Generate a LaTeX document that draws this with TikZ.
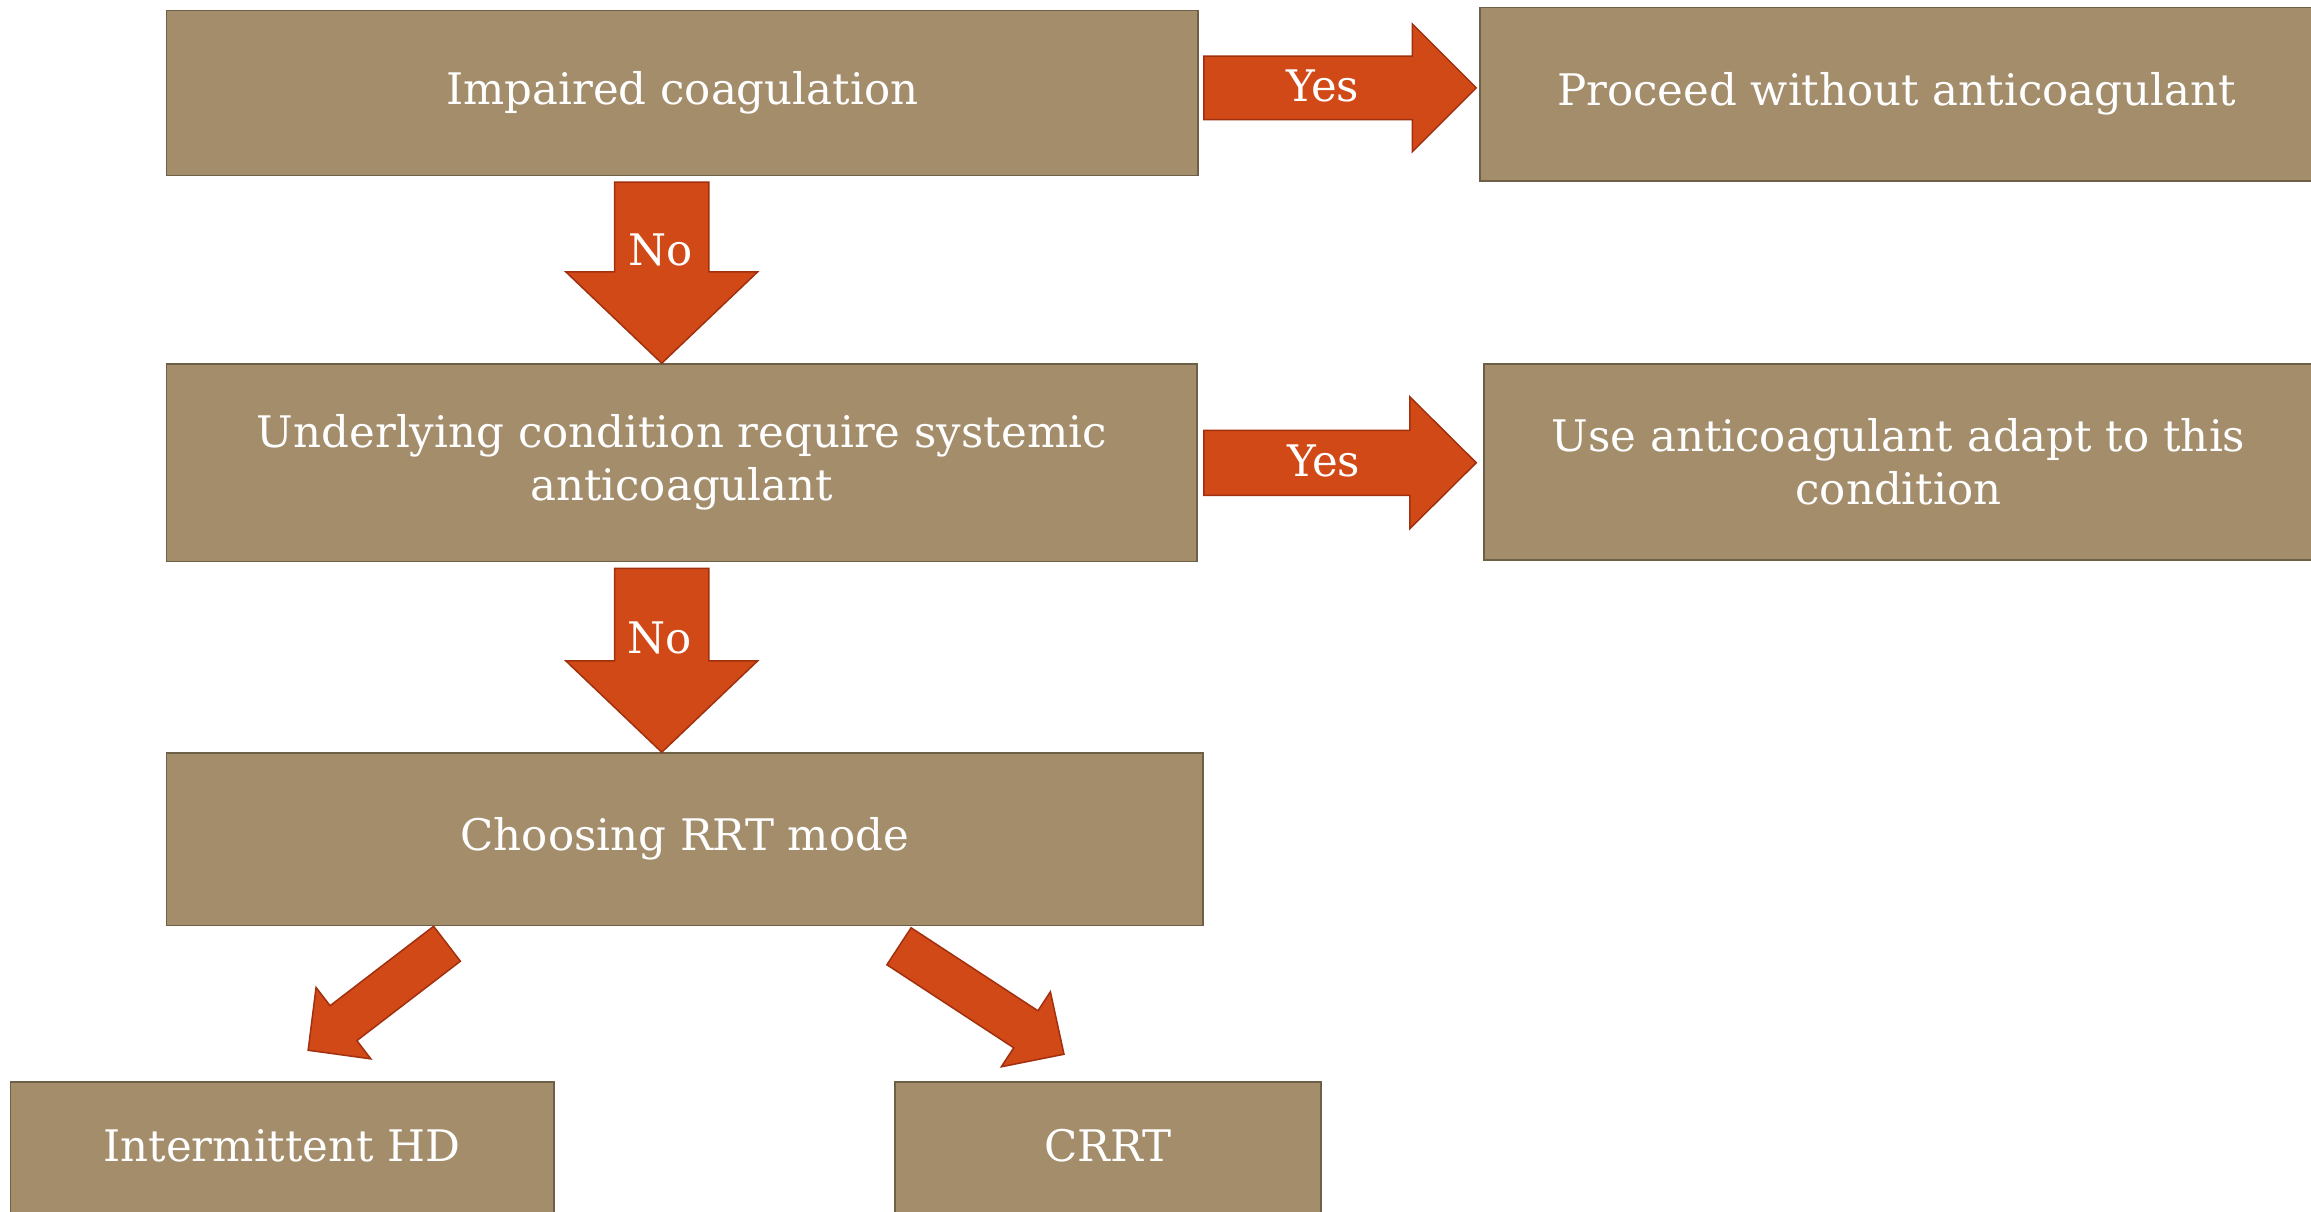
\documentclass[tikz,border=0pt]{standalone}
\usepackage{fontspec}
\setmainfont{DejaVu Serif}
\usetikzlibrary{calc}
\definecolor{boxfill}{RGB}{164,141,107}
\definecolor{boxline}{RGB}{110,96,70}
\definecolor{arrfill}{RGB}{210,73,24}
\definecolor{arrline}{RGB}{160,48,14}
\tikzset{
 box/.style={draw=boxline, line width=1.5pt, fill=boxfill, text=white, inner sep=0pt, align=center, font=\fontsize{43.5}{53}\selectfont},
 lbl/.style={text=white, inner sep=0pt, font=\fontsize{43.5}{53}\selectfont},
 blockarrow/.style={draw=arrline, line width=1.5pt, fill=arrfill, line join=miter},
}
\newcommand{\blockarr}[6]{%
 \coordinate (#1h) at ($(#3)!#6!(#2)$);
 \filldraw[blockarrow] ($(#2)!#4!90:(#3)$) -- ($(#1h)!#4!90:(#3)$) -- ($(#1h)!#5!90:(#3)$) -- (#3) -- ($(#1h)!#5!-90:(#3)$) -- ($(#1h)!#4!-90:(#3)$) -- ($(#2)!#4!-90:(#3)$) -- cycle;}
\begin{document}
\begin{tikzpicture}[x=1pt,y=-1pt]
\fill[white] (0,0) rectangle (2311,1212);
\useasboundingbox (0,0) rectangle (2311,1212);
% boxes
\node[box, minimum width=1031.5pt, minimum height=165pt] (b1) at (682.25,92.85) {Impaired coagulation};
\node[box, minimum width=833pt, minimum height=173.6pt] (b2) at (1896.5,94.2) {Proceed without anticoagulant};
\node[box, minimum width=1030.5pt, minimum height=197.5pt] (b3) at (681.75,462.75) {Underlying condition require systemic\\anticoagulant};
\node[box, minimum width=829pt, minimum height=196pt] (b4) at (1898.5,462) {Use anticoagulant adapt to this\\condition};
\node[box, minimum width=1036.5pt, minimum height=172.6pt] (b5) at (684.75,839.3) {Choosing RRT mode};
\node[box, minimum width=543.7pt, minimum height=132pt, text depth=6pt] (b6) at (282.15,1148) {Intermittent HD};
\node[box, minimum width=426pt, minimum height=132pt, text depth=6pt] (b7) at (1108,1148) {CRRT};
% block arrows
\coordinate (y1a) at ($(b1.east)+(5,-5)$);
\coordinate (y1b) at ($(b2.west)+(-3,-6.35)$);
\blockarr{y1}{y1a}{y1b}{31.7pt}{64pt}{64pt}
\coordinate (y2a) at ($(b3.east)+(6,0)$);
\coordinate (y2b) at ($(b4.west)+(-7,0.75)$);
\blockarr{y2}{y2a}{y2b}{32.5pt}{66pt}{66.5pt}
\coordinate (n1a) at ($(b1.south)+(-20.5,6)$);
\coordinate (n1b) at ($(b3.north)+(-20,0)$);
\blockarr{n1}{n1a}{n1b}{47.2pt}{95.8pt}{91.3pt}
\coordinate (n2a) at ($(b3.south)+(-20,6)$);
\coordinate (n2b) at ($(b5.north)+(-23,0)$);
\blockarr{n2}{n2a}{n2b}{47.2pt}{95.8pt}{91.3pt}
\coordinate (d1a) at ($(b5.south)+(-237.75,17.4)$);
\coordinate (d1b) at ($(b6.north)+(26,-31)$);
\blockarr{d1}{d1a}{d1b}{22pt}{45pt}{44.5pt}
\coordinate (d2a) at ($(b5.south)+(214.25,19.9)$);
\coordinate (d2b) at ($(b7.north)+(-44,-27)$);
\blockarr{d2}{d2a}{d2b}{22.1pt}{44.8pt}{45.6pt}
% labels
\node[lbl] (ly1) at ($(y1a)+(119,-2)$) {Yes};
\node[lbl] (ly2) at ($(y2a)+(120,-2)$) {Yes};
\node[lbl] (ln1) at ($(n1a)+(-1,68)$) {No};
\node[lbl] (ln2) at ($(n2a)+(-2,69.5)$) {No};
\end{tikzpicture}
\end{document}
